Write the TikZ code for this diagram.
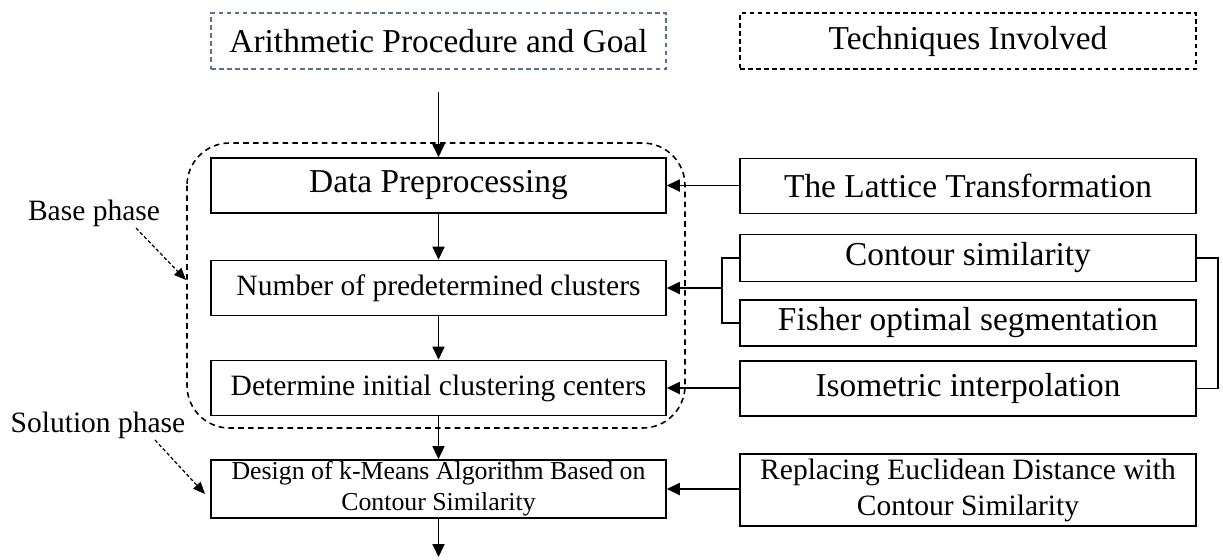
\documentclass[tikz,border=0pt]{standalone}
\usepackage{fontspec}
\setmainfont{Liberation Serif}
\usepackage{xcolor}
\definecolor{goalDash}{HTML}{5A7090}
\usepackage{tikz}
\usetikzlibrary{arrows.meta}
\usetikzlibrary{calc}
\tikzset{
    bigTxt/.style={font=\fontsize{19}{22}\selectfont},
    midTxt/.style={font=\fontsize{16.8}{20.5}\selectfont},
    procBox/.style={draw, line width=0.9pt, minimum width=9.1cm, minimum height=1.1cm, inner sep=1pt, align=center, midTxt},
    techBox/.style={procBox, minimum width=9.12cm, bigTxt},
    headBox/.style={draw, line width=0.7pt, dash pattern=on 2.6pt off 2pt, minimum width=9.1cm, minimum height=1.12cm, bigTxt},
    flowArrow/.style={line width=1pt, -{Triangle[length=2.6mm,width=2.4mm]}},
    phaseArrow/.style={line width=0.7pt, dash pattern=on 2pt off 1.3pt, -{Triangle[length=2.4mm,width=2mm]}},
    groupFrame/.style={line width=0.9pt, dash pattern=on 3.2pt off 2.4pt, rounded corners=0.85cm},
    phaseLbl/.style={inner sep=0pt, midTxt}
}

\begin{document}
\begin{tikzpicture}[x=0.02cm, y=-0.02cm]
  % frame of the picture (pixel units)
  \useasboundingbox (0,0) rectangle (1223,559);

  % headers
  \node[headBox, draw=goalDash] (goal) at (438.5,41) {Arithmetic Procedure and Goal};
  \node[headBox, minimum width=9.12cm] (tech) at (968,41) {Techniques Involved};

  % main procedure (left column)
  \node[procBox, bigTxt] (prep) at (438.5,185.5) {Data Preprocessing};
  \node[procBox] (nclu) at (438.5,288) {Number of predetermined clusters};
  \node[procBox] (cent) at (438.5,388) {Determine initial clustering centers};
  \node[procBox, minimum height=1.14cm, font=\fontsize{14.7}{17.6}\selectfont] (kmns) at (438.5,489)
    {Design of k-Means Algorithm Based on\\Contour Similarity};

  % techniques (right column)
  \node[techBox] (latt) at (968,186) {The Lattice Transformation};
  \node[techBox, minimum height=0.94cm] (csim) at (968,258) {Contour similarity};
  \node[techBox, minimum height=0.92cm] (fish) at (968,323) {Fisher optimal segmentation};
  \node[techBox] (isom) at (968,388.5) {Isometric interpolation};
  \node[techBox, minimum height=1.44cm, midTxt] (repl) at (968,490)
    {Replacing Euclidean Distance with\\Contour Similarity};

  % loose ends
  \coordinate (topIn) at (438.5,92);
  \coordinate (botOut) at (438.5,557);
  \coordinate (brL) at (722,288);
  \coordinate (brR) at (1218,323);

  % flow
  \draw[flowArrow] (topIn) -- (prep.north);
  \draw[flowArrow] (prep) -- (nclu);
  \draw[flowArrow] (nclu) -- (cent);
  \draw[flowArrow] (cent) -- (kmns);
  \draw[flowArrow] (kmns) -- (botOut);

  % technique links
  \draw[flowArrow] (latt.west |- prep.east) -- (prep.east);
  \draw[flowArrow] (isom.west |- cent.east) -- (cent.east);
  \draw[flowArrow] (repl.west |- kmns.east) -- (kmns.east);
  \draw[line width=0.9pt] (csim.west) -| (brL) |- (fish.west);
  \draw[flowArrow] (brL) -- (nclu.east);
  \draw[line width=0.9pt] (csim.east) -| (brR) |- (isom.east);

  % base phase group
  \draw[groupFrame] (187,143) rectangle (685,428);

  % phase labels
  \node[phaseLbl] (baseLbl) at (94,213) {Base phase};
  \node[phaseLbl] (solLbl) at (98,425) {Solution phase};
  \coordinate (baseFrom) at (136,228);
  \coordinate (baseTip) at (186,280);
  \coordinate (solFrom) at (155,440);
  \coordinate (solTip) at (205,494);
  \draw[phaseArrow] (baseFrom) -- (baseTip);
  \draw[phaseArrow] (solFrom) -- (solTip);
\end{tikzpicture}
\end{document}
